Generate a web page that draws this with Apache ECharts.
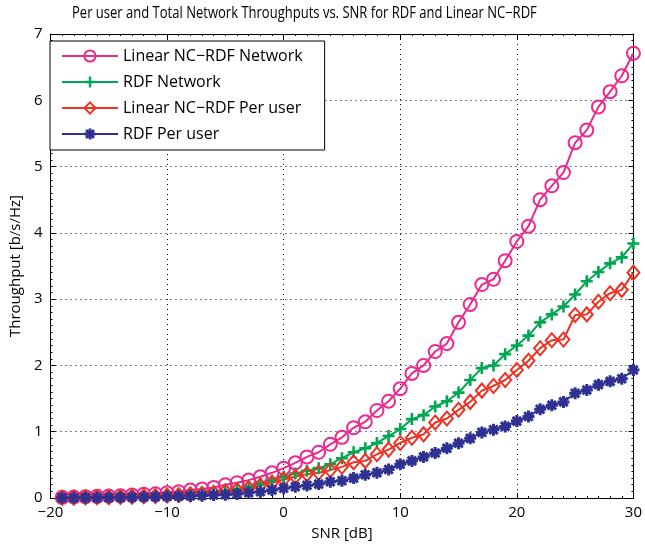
<!DOCTYPE html>
<html><head><meta charset="utf-8">
<script src="https://cdn.jsdelivr.net/npm/echarts@6/dist/echarts.min.js"></script>
<style>html,body{margin:0;padding:0;background:#fff}#c{width:645px;height:551px}</style>
</head><body><div id="c"></div>
<script>
const snr = [-19,-18,-17,-16,-15,-14,-13,-12,-11,-10,-9,-8,-7,-6,-5,-4,-3,-2,-1,0,1,2,3,4,5,6,7,8,9,10,11,12,13,14,15,16,17,18,19,20,21,22,23,24,25,26,27,28,29,30];
const linearNetwork = [0.01,0.015,0.02,0.025,0.03,0.035,0.045,0.055,0.065,0.08,0.095,0.12,0.135,0.16,0.20,0.23,0.27,0.32,0.38,0.45,0.53,0.62,0.69,0.81,0.915,1.06,1.15,1.32,1.46,1.65,1.88,2.0,2.21,2.33,2.65,2.92,3.22,3.30,3.58,3.87,4.10,4.50,4.71,4.91,5.36,5.55,5.90,6.13,6.37,6.71];
const rdfNetwork = [0.005,0.007,0.01,0.012,0.015,0.02,0.025,0.03,0.035,0.04,0.05,0.06,0.07,0.085,0.11,0.135,0.17,0.21,0.26,0.32,0.37,0.41,0.45,0.51,0.60,0.69,0.75,0.83,0.935,1.04,1.19,1.25,1.38,1.46,1.59,1.78,1.96,2.0,2.17,2.30,2.45,2.65,2.77,2.89,3.07,3.27,3.41,3.54,3.63,3.84];
const linearPerUser = [0.005,0.006,0.008,0.01,0.013,0.017,0.021,0.026,0.031,0.037,0.045,0.055,0.065,0.08,0.10,0.12,0.15,0.19,0.23,0.28,0.32,0.36,0.38,0.42,0.47,0.54,0.56,0.66,0.73,0.83,0.91,0.96,1.14,1.20,1.33,1.45,1.62,1.69,1.78,1.93,2.07,2.26,2.38,2.39,2.76,2.77,2.96,3.09,3.14,3.40];
const rdfPerUser = [0.003,0.004,0.005,0.006,0.008,0.01,0.012,0.015,0.018,0.022,0.027,0.032,0.038,0.045,0.05,0.06,0.08,0.095,0.12,0.146,0.17,0.19,0.21,0.245,0.26,0.30,0.35,0.38,0.43,0.51,0.56,0.62,0.68,0.75,0.825,0.90,0.99,1.03,1.08,1.16,1.23,1.34,1.40,1.45,1.58,1.63,1.71,1.76,1.80,1.93];
const seriesNames = ['Linear NC\u2212RDF Network','RDF Network','Linear NC\u2212RDF Per user','RDF Per user'];
const titleText = 'Per user and Total Network Throughputs vs. SNR for RDF and Linear NC\u2212RDF';
const xTicks = {min:-20, max:30, interval:10};
const yTicks = {min:0, max:7, interval:1};

const colors = ['#EC2A8E','#00A651','#EE3224','#2E3192'];
const plusPath = 'path://M-1.3,-6H1.3V-1.3H6V1.3H1.3V6H-1.3V1.3H-6V-1.3H-1.3Z';
const starPath = 'path://M-6,-1.5H6V1.5H-6Z M-1.5,-6H1.5V6H-1.5Z M-3.2,-5.3L5.3,3.2L3.2,5.3L-5.3,-3.2Z M3.2,-5.3L5.3,-3.2L-3.2,5.3L-5.3,3.2Z';
const pair = arr => snr.map((x,i)=>[x,arr[i]]);
const fmt = v => String(v).replace('-', '\u2212');
const font = 'Open Sans';

const chart = echarts.init(document.getElementById('c'), null, {renderer:'canvas'});
const axisCommon = {
  axisLine:{show:true,onZero:false,lineStyle:{color:'#000',width:1}},
  axisTick:{show:true,inside:true,length:5,lineStyle:{color:'#000'}},
  minorTick:{show:true,splitNumber:10,length:2,lineStyle:{color:'#000'}},
};
const mk = (name, data, color, symbol, size, filled) => ({
  name, type:'line', data:pair(data), symbol, symbolSize:size,
  showSymbol:true, animation:false,
  lineStyle:{color, width:2},
  itemStyle: filled ? {color, borderWidth:0} : {color:'rgba(0,0,0,0)', borderColor:color, borderWidth:2},
});
chart.setOption({
  animation:false,
  backgroundColor:'#fff',
  graphic:[{type:'text', x:72, y:6, scaleX:0.84, style:{text:titleText, fontFamily:'Open Sans', fontSize:15.5, fill:'#000', align:'left', verticalAlign:'top'}}],
  grid:{left:47, right:7, top:34, bottom:53},
  legend:{orient:'vertical', left:50, top:41, padding:[7,22,8,11], itemWidth:56, itemHeight:14, itemGap:10,
    backgroundColor:'#fff', borderColor:'#000', borderWidth:1, borderRadius:0,
    textStyle:{fontFamily:font, fontSize:16, color:'#000'}, data:seriesNames},
  xAxis:[
    Object.assign({type:'value', min:xTicks.min, max:xTicks.max, interval:xTicks.interval, position:'bottom',
      name:'SNR [dB]', nameLocation:'middle', nameGap:28, nameTextStyle:{fontFamily:font,fontSize:15,color:'#000'},
      axisLabel:{fontFamily:font,fontSize:15,color:'#000',margin:7,formatter:fmt},
      splitLine:{show:true,lineStyle:{color:'#000',type:[1,4],width:1}}}, axisCommon),
    Object.assign({type:'value', min:xTicks.min, max:xTicks.max, interval:xTicks.interval, position:'top',
      axisLabel:{show:false}, splitLine:{show:false}}, axisCommon)
  ],
  yAxis:[
    Object.assign({type:'value', min:yTicks.min, max:yTicks.max, interval:yTicks.interval, position:'left',
      name:'Throughput [b/s/Hz]', nameLocation:'middle', nameGap:27, nameTextStyle:{fontFamily:font,fontSize:15,color:'#000'},
      axisLabel:{fontFamily:font,fontSize:15,color:'#000',margin:8,formatter:fmt},
      splitLine:{show:true,lineStyle:{color:'#000',type:[1,4],width:1}}}, axisCommon),
    Object.assign({type:'value', min:yTicks.min, max:yTicks.max, interval:yTicks.interval, position:'right',
      axisLabel:{show:false}, splitLine:{show:false}}, axisCommon)
  ],
  series:[
    mk(seriesNames[0], linearNetwork, colors[0], 'circle', 13, false),
    mk(seriesNames[1], rdfNetwork, colors[1], plusPath, 12, true),
    mk(seriesNames[2], linearPerUser, colors[2], 'diamond', [12,14], false),
    mk(seriesNames[3], rdfPerUser, colors[3], starPath, 12, true)
  ]
});
</script></body></html>
